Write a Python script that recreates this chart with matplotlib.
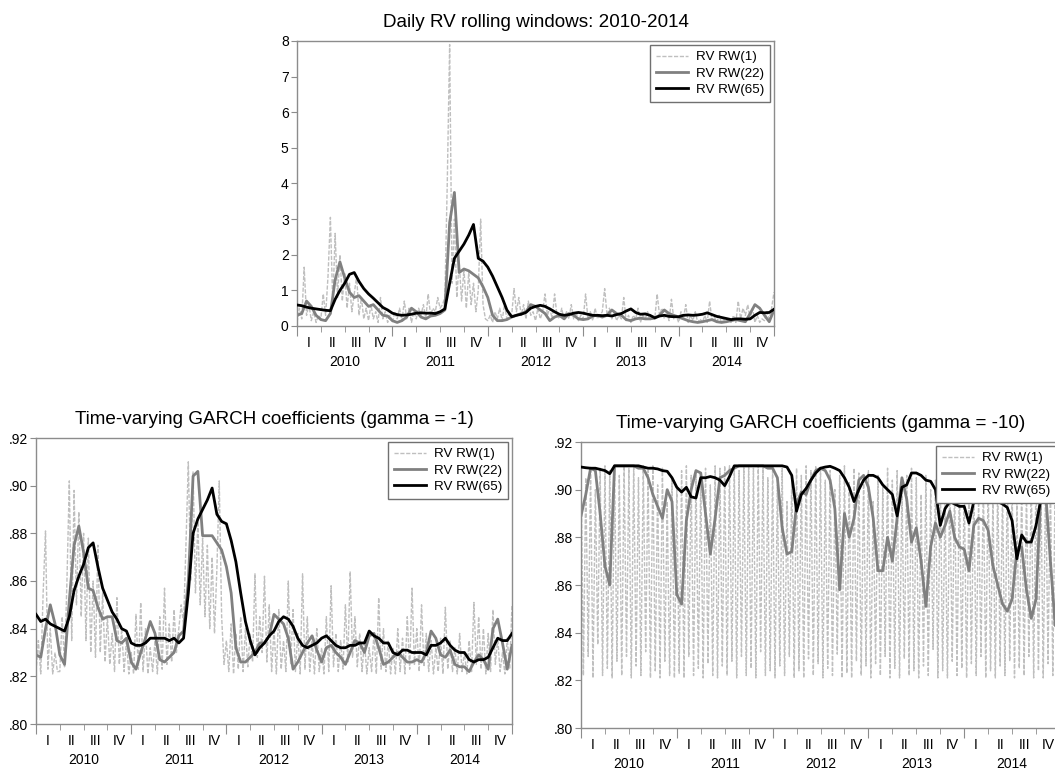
import numpy as np
import matplotlib
matplotlib.use("Agg")
import matplotlib.pyplot as plt
from matplotlib.ticker import FixedLocator

plt.rcParams["font.family"] = ["Liberation Sans", "DejaVu Sans"]

years = ["2010", "2011", "2012", "2013", "2014"]
quarters = ["I", "II", "III", "IV"]
series_labels = ["RV RW(1)", "RV RW(22)", "RV RW(65)"]

# ---- Daily RV rolling windows (top panel) ----
rv_rw1 = [
    0.10, 0.50, 0.20, 1.65, 0.30, 0.60, 0.15, 0.40, 0.10, 0.30,
    0.20, 0.90, 0.30, 1.40, 3.05, 0.60, 2.60, 0.80, 2.00, 0.70,
    1.50, 0.50, 1.20, 0.40, 0.90, 1.40, 0.30, 0.80, 0.20, 0.50,
    0.15, 0.60, 0.20, 0.40, 0.10, 0.80, 0.20, 0.40, 0.10, 0.30,
    0.10, 0.40, 0.20, 0.50, 0.15, 0.70, 0.20, 0.50, 0.10, 0.40,
    0.20, 0.50, 0.30, 0.60, 0.20, 0.90, 0.30, 0.50, 0.40, 0.80,
    0.50, 0.60, 0.80, 4.00, 7.90, 1.20, 3.00, 0.80, 1.80, 0.70,
    1.60, 0.50, 1.50, 0.60, 1.20, 0.40, 1.00, 3.00, 0.60, 0.20,
    0.15, 0.30, 0.10, 0.40, 0.20, 0.50, 0.15, 0.60, 0.20, 0.40,
    0.30, 1.05, 0.40, 0.80, 0.30, 0.60, 0.20, 0.70, 0.30, 0.40,
    0.15, 0.50, 0.20, 0.40, 0.90, 0.30, 0.50, 0.20, 0.90, 0.30,
    0.20, 0.50, 0.15, 0.40, 0.20, 0.60, 0.20, 0.40, 0.15, 0.30,
    0.20, 0.90, 0.20, 0.40, 0.15, 0.50, 0.20, 0.30, 0.40, 1.05,
    0.30, 0.50, 0.20, 0.40, 0.15, 0.30, 0.20, 0.80, 0.15, 0.30,
    0.10, 0.30, 0.20, 0.50, 0.10, 0.30, 0.20, 0.40, 0.15, 0.30,
    0.20, 0.90, 0.30, 0.50, 0.20, 0.40, 0.15, 0.75, 0.20, 0.30,
    0.10, 0.40, 0.20, 0.60, 0.10, 0.30, 0.15, 0.40, 0.10, 0.20,
    0.10, 0.30, 0.10, 0.70, 0.15, 0.25, 0.10, 0.30, 0.10, 0.20,
    0.10, 0.20, 0.10, 0.30, 0.10, 0.70, 0.20, 0.50, 0.30, 0.60,
    0.20, 0.50, 0.10, 0.30, 0.10, 0.20, 0.15, 0.40, 0.20, 0.50,
    0.95]
rv_rw22 = [
    0.30, 0.35, 0.70, 0.55, 0.30, 0.18, 0.15, 0.35, 1.30, 1.80,
    1.35, 0.95, 0.80, 0.85, 0.70, 0.55, 0.60, 0.45, 0.30, 0.28,
    0.15, 0.10, 0.15, 0.25, 0.50, 0.40, 0.25, 0.20, 0.28, 0.30,
    0.35, 0.45, 2.90, 3.75, 1.50, 1.60, 1.55, 1.45, 1.35, 1.10,
    0.80, 0.30, 0.15, 0.15, 0.18, 0.25, 0.30, 0.35, 0.40, 0.60,
    0.55, 0.45, 0.35, 0.15, 0.25, 0.30, 0.20, 0.35, 0.30, 0.20,
    0.18, 0.20, 0.28, 0.30, 0.25, 0.30, 0.45, 0.35, 0.30, 0.18,
    0.15, 0.20, 0.22, 0.20, 0.20, 0.22, 0.30, 0.45, 0.35, 0.30,
    0.25, 0.20, 0.15, 0.12, 0.10, 0.12, 0.15, 0.18, 0.12, 0.10,
    0.12, 0.15, 0.18, 0.15, 0.12, 0.35, 0.60, 0.50, 0.30, 0.12,
    0.45]
rv_rw65 = [
    0.59, 0.57, 0.53, 0.50, 0.48, 0.46, 0.44, 0.43, 0.75, 1.00,
    1.20, 1.45, 1.50, 1.25, 1.05, 0.90, 0.78, 0.65, 0.52, 0.45,
    0.36, 0.32, 0.30, 0.31, 0.33, 0.36, 0.37, 0.36, 0.36, 0.35,
    0.40, 0.48, 1.20, 1.90, 2.10, 2.30, 2.55, 2.85, 1.90, 1.82,
    1.65, 1.40, 1.10, 0.80, 0.45, 0.26, 0.30, 0.33, 0.38, 0.50,
    0.55, 0.58, 0.55, 0.48, 0.40, 0.33, 0.30, 0.32, 0.36, 0.38,
    0.36, 0.33, 0.30, 0.30, 0.29, 0.30, 0.28, 0.32, 0.35, 0.42,
    0.48, 0.38, 0.33, 0.34, 0.30, 0.23, 0.28, 0.30, 0.27, 0.26,
    0.26, 0.30, 0.31, 0.30, 0.31, 0.33, 0.37, 0.32, 0.27, 0.24,
    0.21, 0.18, 0.20, 0.20, 0.19, 0.20, 0.30, 0.38, 0.37, 0.38,
    0.47]

# ---- GARCH coefficients, gamma = -1 ----
g1_rw1 = [
    .822, .835, .821, .855, .881, .823, .840, .821, .830, .822,
    .822, .845, .824, .860, .902, .835, .898, .850, .889, .845,
    .880, .835, .878, .830, .860, .828, .875, .830, .855, .826,
    .845, .825, .838, .822, .853, .825, .840, .822, .835, .821,
    .830, .821, .846, .823, .851, .822, .840, .821, .832, .822,
    .835, .821, .845, .823, .857, .825, .842, .826, .848, .830,
    .840, .850, .842, .875, .910, .860, .906, .855, .885, .850,
    .878, .845, .875, .840, .870, .838, .865, .902, .845, .825,
    .835, .822, .842, .821, .838, .823, .845, .822, .840, .824,
    .838, .826, .863, .828, .845, .830, .862, .826, .850, .822,
    .840, .821, .848, .823, .835, .822, .860, .825, .848, .822,
    .838, .821, .863, .823, .845, .822, .835, .821, .840, .822,
    .832, .821, .845, .822, .858, .824, .838, .822, .835, .823,
    .850, .826, .864, .828, .845, .824, .838, .822, .835, .821,
    .832, .822, .838, .821, .853, .823, .840, .822, .835, .821,
    .832, .821, .840, .822, .836, .821, .845, .823, .857, .825,
    .840, .822, .850, .824, .838, .822, .835, .821, .832, .822,
    .836, .821, .849, .823, .835, .822, .832, .821, .838, .822,
    .830, .821, .835, .822, .851, .825, .845, .823, .840, .821,
    .838, .822, .848, .825, .836, .822, .830, .821, .836, .823,
    .850]
g1_rw22 = [
    .829, .828, .840, .850, .842, .829, .825, .852, .875, .883,
    .872, .857, .856, .849, .844, .845, .845, .835, .834, .836,
    .826, .823, .830, .836, .843, .838, .827, .826, .828, .830,
    .837, .839, .860, .904, .906, .879, .879, .879, .876, .873,
    .866, .855, .832, .826, .826, .828, .830, .834, .834, .837,
    .846, .844, .842, .836, .823, .826, .830, .834, .837, .831,
    .826, .832, .833, .830, .828, .825, .830, .835, .834, .830,
    .837, .838, .832, .825, .826, .828, .830, .828, .826, .826,
    .827, .826, .830, .839, .836, .829, .828, .831, .825, .824,
    .824, .822, .826, .829, .827, .823, .840, .844, .834, .823,
    .833]
g1_rw65 = [
    .846, .843, .844, .842, .841, .840, .839, .845, .856, .862,
    .867, .874, .876, .866, .857, .852, .847, .844, .840, .839,
    .834, .833, .833, .834, .836, .836, .836, .836, .835, .836,
    .834, .836, .855, .880, .886, .890, .894, .899, .888, .885,
    .884, .877, .868, .855, .843, .835, .829, .832, .834, .837,
    .839, .843, .845, .844, .841, .836, .833, .832, .833, .834,
    .836, .837, .835, .833, .832, .832, .833, .833, .834, .834,
    .839, .837, .836, .834, .834, .830, .829, .831, .831, .830,
    .830, .830, .829, .833, .833, .834, .836, .833, .831, .830,
    .830, .827, .826, .827, .827, .828, .832, .836, .835, .835,
    .838]

# ---- GARCH coefficients, gamma = -10 ----
g10_rw1 = [
    .910, .822, .905, .830, .908, .821, .900, .835, .909, .822,
    .910, .825, .908, .821, .910, .828, .906, .822, .910, .830,
    .909, .821, .910, .826, .905, .822, .910, .832, .908, .821,
    .910, .824, .902, .821, .909, .828, .895, .822, .905, .821,
    .900, .823, .908, .821, .910, .830, .906, .822, .908, .825,
    .905, .821, .909, .827, .902, .822, .910, .821, .909, .826,
    .910, .822, .910, .828, .910, .821, .908, .830, .910, .822,
    .910, .825, .909, .821, .910, .832, .910, .822, .905, .824,
    .908, .821, .902, .826, .909, .822, .895, .830, .905, .821,
    .909, .824, .906, .821, .910, .829, .908, .822, .910, .827,
    .909, .821, .904, .825, .908, .822, .900, .831, .906, .821,
    .910, .823, .903, .821, .909, .828, .907, .822, .905, .826,
    .908, .821, .895, .827, .906, .822, .901, .830, .909, .821,
    .904, .825, .908, .821, .902, .829, .906, .822, .909, .824,
    .905, .821, .898, .826, .906, .822, .900, .833, .904, .821,
    .907, .824, .896, .821, .905, .828, .902, .822, .906, .825,
    .904, .821, .899, .827, .905, .822, .895, .830, .903, .821,
    .906, .824, .898, .821, .904, .826, .900, .822, .905, .828,
    .902, .821, .896, .825, .903, .822, .900, .830, .906, .821,
    .909, .824, .904, .821, .907, .827, .903, .822, .905, .823,
    .910]
g10_rw22 = [
    .889, .898, .909, .908, .890, .868, .860, .910, .910, .910,
    .910, .910, .909, .909, .905, .898, .893, .888, .900, .895,
    .856, .852, .887, .900, .908, .907, .890, .873, .888, .905,
    .906, .908, .909, .910, .910, .910, .910, .910, .910, .909,
    .909, .905, .884, .873, .874, .894, .899, .898, .904, .908,
    .909, .908, .904, .892, .858, .890, .880, .888, .904, .906,
    .901, .888, .866, .866, .880, .870, .888, .905, .896, .878,
    .884, .870, .851, .876, .886, .880, .885, .891, .880, .876,
    .875, .866, .885, .888, .887, .883, .868, .860, .852, .849,
    .854, .875, .876, .858, .846, .854, .899, .899, .870, .843,
    .842]
g10_rw65 = [
    .9095, .9092, .909, .909, .9085, .908, .9067, .910, .910, .910,
    .910, .910, .910, .9095, .909, .909, .9087, .908, .9077, .905,
    .901, .899, .901, .897, .8965, .905, .905, .9055, .905, .904,
    .9017, .9055, .910, .910, .910, .910, .910, .910, .910, .910,
    .910, .910, .910, .9095, .906, .891, .898, .9005, .904, .907,
    .909, .9095, .9098, .909, .908, .905, .901, .895, .900, .904,
    .906, .906, .905, .902, .900, .898, .889, .901, .902, .907,
    .907, .906, .904, .9035, .900, .885, .892, .895, .894, .893,
    .893, .886, .895, .895, .896, .896, .8965, .895, .894, .8925,
    .887, .871, .881, .878, .878, .885, .896, .901, .904, .905,
    .905]

FRAME = "#8c8c8c"


def draw_panel(ax, rw1, rw22, rw65, ylim, yticks, ylabels, title):
    start = int(years[0])
    end = start + len(years)
    ax.plot(np.linspace(start, end, len(rw1)), rw1, color="#bfbfbf",
            lw=1.0, ls=(0, (3, 1.2)), label=series_labels[0], zorder=1)
    ax.plot(np.linspace(start, end, len(rw22)), rw22, color="#808080",
            lw=2.0, label=series_labels[1], zorder=2)
    ax.plot(np.linspace(start, end, len(rw65)), rw65, color="black",
            lw=2.0, label=series_labels[2], zorder=3)

    ax.set_xlim(start, end)
    ax.set_ylim(*ylim)
    ax.set_yticks(yticks)
    ax.set_yticklabels(ylabels, fontsize=10)

    ax.xaxis.set_major_locator(FixedLocator(np.arange(start, end + 1)))
    ax.xaxis.set_minor_locator(FixedLocator(np.arange(start, end + 0.01, 0.25)))
    ax.set_xticklabels([])
    ax.tick_params(axis="x", which="major", length=7, color=FRAME)
    ax.tick_params(axis="x", which="minor", length=4, color=FRAME)
    ax.tick_params(axis="y", length=4, color=FRAME, pad=2)
    for sp in ax.spines.values():
        sp.set_color(FRAME)
        sp.set_linewidth(1.0)

    trans = ax.get_xaxis_transform()
    for i, yr in enumerate(years):
        y0 = start + i
        for q, ql in enumerate(quarters):
            ax.annotate(ql, xy=(y0 + (q + 0.5) / 4, 0), xycoords=trans,
                        xytext=(0, -12.5), textcoords="offset points",
                        ha="center", va="center", fontsize=10)
        ax.annotate(yr, xy=(y0 + 0.5, 0), xycoords=trans,
                    xytext=(0, -26), textcoords="offset points",
                    ha="center", va="center", fontsize=10)

    ax.set_title(title, fontsize=13.6, pad=10)
    leg = ax.legend(loc="upper right", fontsize=9.6, frameon=True, fancybox=False,
                    framealpha=1, edgecolor="#707070", handlelength=2.4,
                    handletextpad=0.6, labelspacing=0.3, borderpad=0.45,
                    borderaxespad=0.3)
    leg.get_frame().set_linewidth(1.0)
    leg.set_zorder(10)


fig = plt.figure(figsize=(10.55, 7.74), dpi=100)

ax_top = fig.add_axes([297 / 1055, 1 - 326 / 774, 477 / 1055, 285 / 774])
draw_panel(ax_top, rv_rw1, rv_rw22, rv_rw65, (0, 8), list(range(9)),
           [str(v) for v in range(9)], "Daily RV rolling windows: 2010-2014")

garch_ticks = [0.80, 0.82, 0.84, 0.86, 0.88, 0.90, 0.92]
garch_labels = [f"{v:.2f}".lstrip("0") for v in garch_ticks]

ax_g1 = fig.add_axes([36 / 1055, 1 - 724 / 774, 476 / 1055, 286 / 774])
draw_panel(ax_g1, g1_rw1, g1_rw22, g1_rw65, (0.80, 0.92), garch_ticks,
           garch_labels, "Time-varying GARCH coefficients (gamma = -1)")

ax_g10 = fig.add_axes([581 / 1055, 1 - 728 / 774, 479 / 1055, 286 / 774])
draw_panel(ax_g10, g10_rw1, g10_rw22, g10_rw65, (0.80, 0.92), garch_ticks,
           garch_labels, "Time-varying GARCH coefficients (gamma = -10)")

fig.savefig("out.png", dpi=100)
